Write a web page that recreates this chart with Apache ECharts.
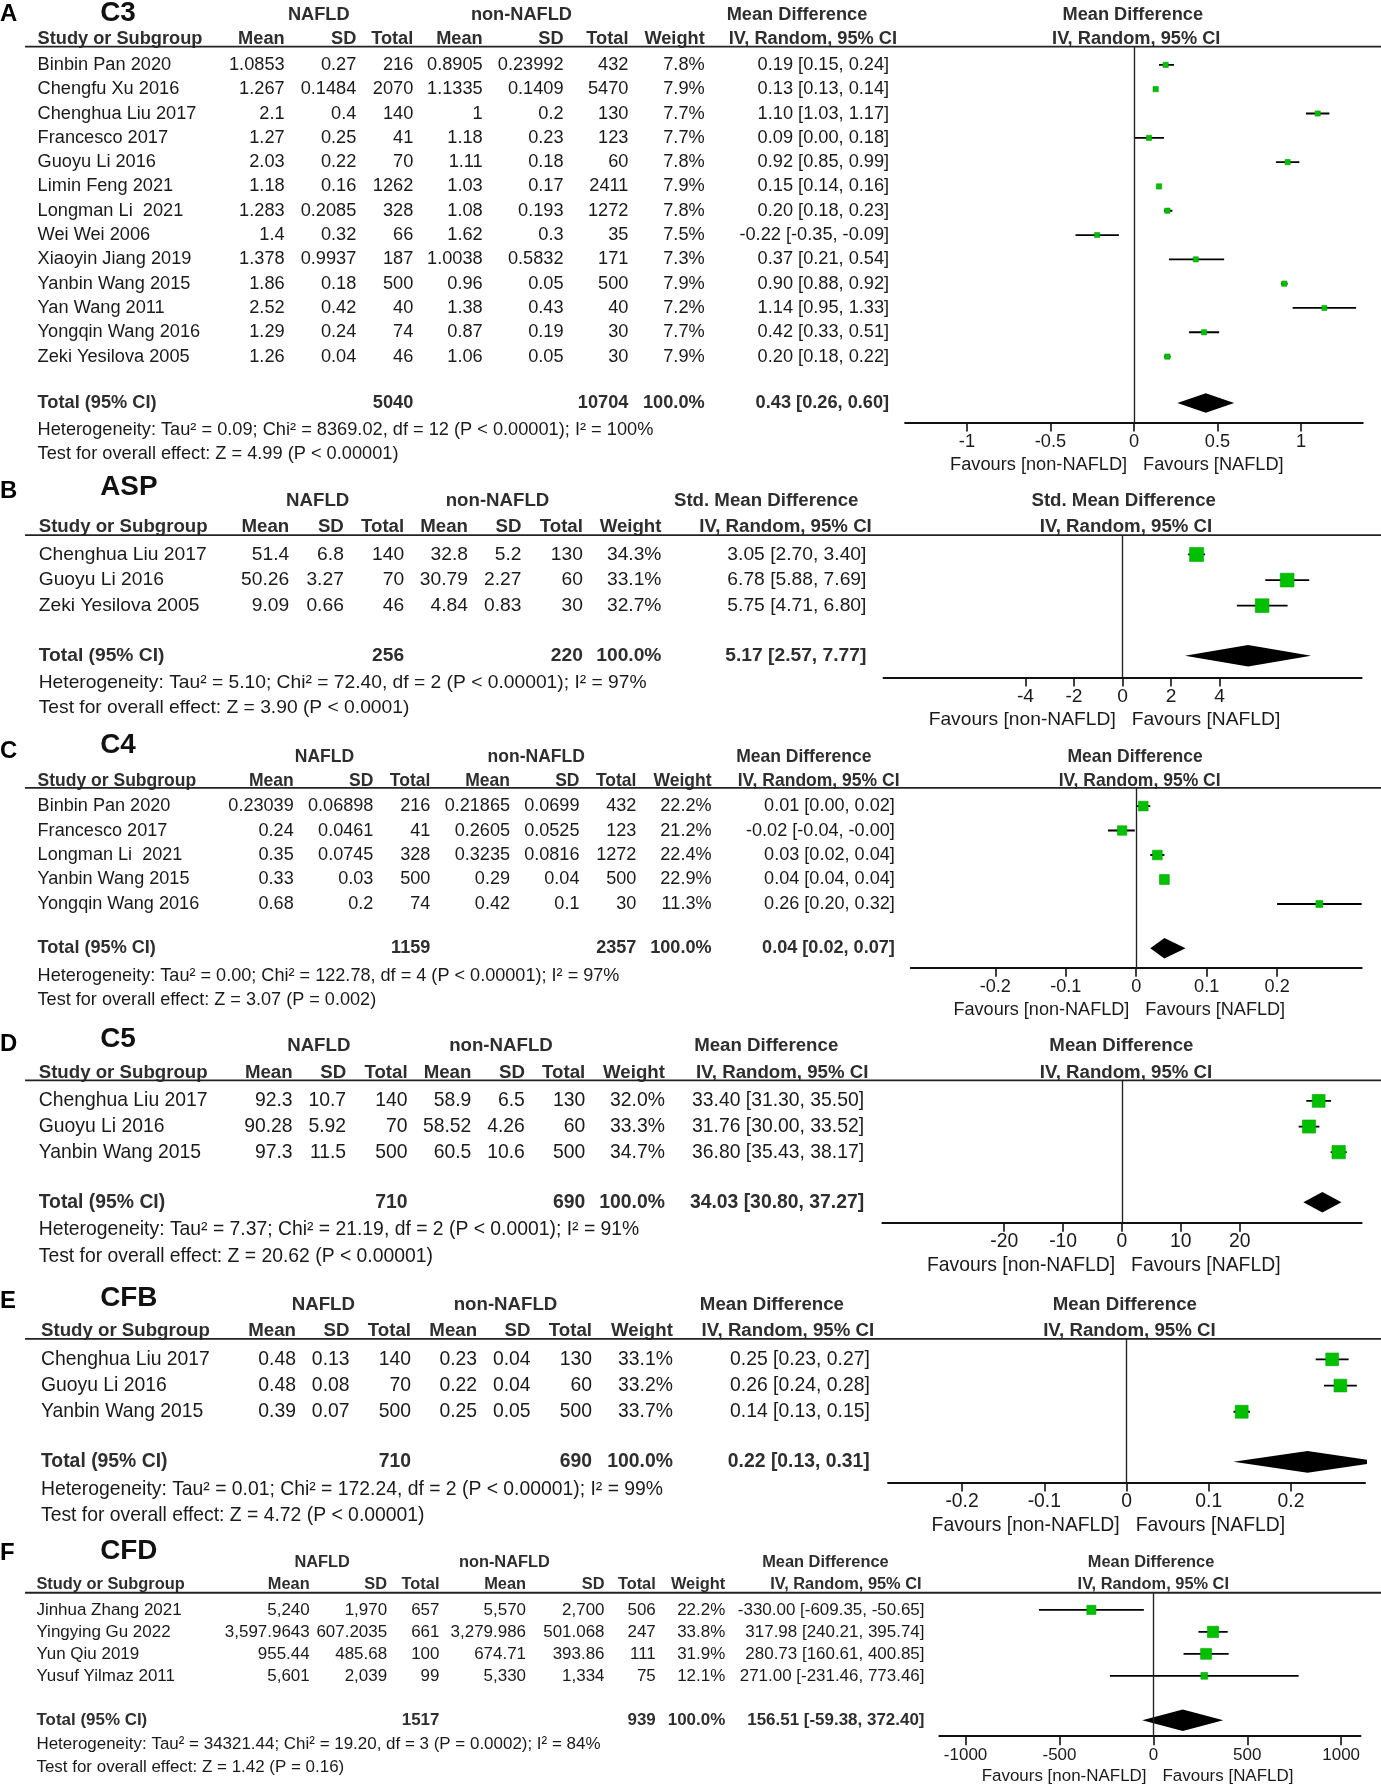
<!DOCTYPE html>
<html><head><meta charset="utf-8">
<script src="https://cdn.jsdelivr.net/npm/echarts@6.0.0/dist/echarts.min.js"></script>
<style>html,body{margin:0;padding:0;background:#fff}#c{width:1381px;height:1785px}</style>
</head><body><div id="c"></div>
<script>
// ---------------- DATA ----------------
// Panel A: C3
const c3_study = ['Binbin Pan 2020','Chengfu Xu 2016','Chenghua Liu 2017','Francesco 2017','Guoyu Li 2016','Limin Feng 2021','Longman Li  2021','Wei Wei 2006','Xiaoyin Jiang 2019','Yanbin Wang 2015','Yan Wang 2011','Yongqin Wang 2016','Zeki Yesilova 2005'];
const c3_m1 = [1.0853,1.267,2.1,1.27,2.03,1.18,1.283,1.4,1.378,1.86,2.52,1.29,1.26];
const c3_sd1 = [0.27,0.1484,0.4,0.25,0.22,0.16,0.2085,0.32,0.9937,0.18,0.42,0.24,0.04];
const c3_n1 = [216,2070,140,41,70,1262,328,66,187,500,40,74,46];
const c3_m2 = [0.8905,1.1335,1,1.18,1.11,1.03,1.08,1.62,1.0038,0.96,1.38,0.87,1.06];
const c3_sd2 = [0.23992,0.1409,0.2,0.23,0.18,0.17,0.193,0.3,0.5832,0.05,0.43,0.19,0.05];
const c3_n2 = [432,5470,130,123,60,2411,1272,35,171,500,40,30,30];
const c3_w = [7.8,7.9,7.7,7.7,7.8,7.9,7.8,7.5,7.3,7.9,7.2,7.7,7.9];
const c3_est = [0.19,0.13,1.10,0.09,0.92,0.15,0.20,-0.22,0.37,0.90,1.14,0.42,0.20];
const c3_lo = [0.15,0.13,1.03,0.00,0.85,0.14,0.18,-0.35,0.21,0.88,0.95,0.33,0.18];
const c3_hi = [0.24,0.14,1.17,0.18,0.99,0.16,0.23,-0.09,0.54,0.92,1.33,0.51,0.22];
const c3_total = [5040,10704,0.43,0.26,0.60];
const c3_het = 'Heterogeneity: Tau² = 0.09; Chi² = 8369.02, df = 12 (P < 0.00001); I² = 100%';
const c3_test = 'Test for overall effect: Z = 4.99 (P < 0.00001)';
const c3_ticks = [-1,-0.5,0,0.5,1];

// Panel B: ASP
const asp_study = ['Chenghua Liu 2017','Guoyu Li 2016','Zeki Yesilova 2005'];
const asp_m1 = [51.4,50.26,9.09];
const asp_sd1 = [6.8,3.27,0.66];
const asp_n1 = [140,70,46];
const asp_m2 = [32.8,30.79,4.84];
const asp_sd2 = [5.2,2.27,0.83];
const asp_n2 = [130,60,30];
const asp_w = [34.3,33.1,32.7];
const asp_est = [3.05,6.78,5.75];
const asp_lo = [2.70,5.88,4.71];
const asp_hi = [3.40,7.69,6.80];
const asp_total = [256,220,5.17,2.57,7.77];
const asp_het = 'Heterogeneity: Tau² = 5.10; Chi² = 72.40, df = 2 (P < 0.00001); I² = 97%';
const asp_test = 'Test for overall effect: Z = 3.90 (P < 0.0001)';
const asp_ticks = [-4,-2,0,2,4];

// Panel C: C4
const c4_study = ['Binbin Pan 2020','Francesco 2017','Longman Li  2021','Yanbin Wang 2015','Yongqin Wang 2016'];
const c4_m1 = [0.23039,0.24,0.35,0.33,0.68];
const c4_sd1 = [0.06898,0.0461,0.0745,0.03,0.2];
const c4_n1 = [216,41,328,500,74];
const c4_m2 = [0.21865,0.2605,0.3235,0.29,0.42];
const c4_sd2 = [0.0699,0.0525,0.0816,0.04,0.1];
const c4_n2 = [432,123,1272,500,30];
const c4_w = [22.2,21.2,22.4,22.9,11.3];
const c4_est = [0.01,-0.02,0.03,0.04,0.26];
const c4_lo = [0.00,-0.04,0.02,0.04,0.20];
const c4_hi = [0.02,-0.002,0.04,0.04,0.32];
const c4_total = [1159,2357,0.04,0.02,0.07];
const c4_het = 'Heterogeneity: Tau² = 0.00; Chi² = 122.78, df = 4 (P < 0.00001); I² = 97%';
const c4_test = 'Test for overall effect: Z = 3.07 (P = 0.002)';
const c4_ticks = [-0.2,-0.1,0,0.1,0.2];

// Panel D: C5
const c5_study = ['Chenghua Liu 2017','Guoyu Li 2016','Yanbin Wang 2015'];
const c5_m1 = [92.3,90.28,97.3];
const c5_sd1 = [10.7,5.92,11.5];
const c5_n1 = [140,70,500];
const c5_m2 = [58.9,58.52,60.5];
const c5_sd2 = [6.5,4.26,10.6];
const c5_n2 = [130,60,500];
const c5_w = [32.0,33.3,34.7];
const c5_est = [33.40,31.76,36.80];
const c5_lo = [31.30,30.00,35.43];
const c5_hi = [35.50,33.52,38.17];
const c5_total = [710,690,34.03,30.80,37.27];
const c5_het = 'Heterogeneity: Tau² = 7.37; Chi² = 21.19, df = 2 (P < 0.0001); I² = 91%';
const c5_test = 'Test for overall effect: Z = 20.62 (P < 0.00001)';
const c5_ticks = [-20,-10,0,10,20];

// Panel E: CFB
const cfb_study = ['Chenghua Liu 2017','Guoyu Li 2016','Yanbin Wang 2015'];
const cfb_m1 = [0.48,0.48,0.39];
const cfb_sd1 = [0.13,0.08,0.07];
const cfb_n1 = [140,70,500];
const cfb_m2 = [0.23,0.22,0.25];
const cfb_sd2 = [0.04,0.04,0.05];
const cfb_n2 = [130,60,500];
const cfb_w = [33.1,33.2,33.7];
const cfb_est = [0.25,0.26,0.14];
const cfb_lo = [0.23,0.24,0.13];
const cfb_hi = [0.27,0.28,0.15];
const cfb_total = [710,690,0.22,0.13,0.31];
const cfb_het = 'Heterogeneity: Tau² = 0.01; Chi² = 172.24, df = 2 (P < 0.00001); I² = 99%';
const cfb_test = 'Test for overall effect: Z = 4.72 (P < 0.00001)';
const cfb_ticks = [-0.2,-0.1,0,0.1,0.2];

// Panel F: CFD
const cfd_study = ['Jinhua Zhang 2021','Yingying Gu 2022','Yun Qiu 2019','Yusuf Yilmaz 2011'];
const cfd_m1 = [5240,3597.9643,955.44,5601];
const cfd_sd1 = [1970,607.2035,485.68,2039];
const cfd_n1 = [657,661,100,99];
const cfd_m2 = [5570,3279.986,674.71,5330];
const cfd_sd2 = [2700,501.068,393.86,1334];
const cfd_n2 = [506,247,111,75];
const cfd_w = [22.2,33.8,31.9,12.1];
const cfd_est = [-330.00,317.98,280.73,271.00];
const cfd_lo = [-609.35,240.21,160.61,-231.46];
const cfd_hi = [-50.65,395.74,400.85,773.46];
const cfd_total = [1517,939,156.51,-59.38,372.40];
const cfd_het = 'Heterogeneity: Tau² = 34321.44; Chi² = 19.20, df = 3 (P = 0.0002); I² = 84%';
const cfd_test = 'Test for overall effect: Z = 1.42 (P = 0.16)';
const cfd_ticks = [-1000,-500,0,500,1000];

// ---------------- LAYOUT (reference units, scaled by S) ----------------
const S = 1381 / 1213;
const FONT = '"Liberation Sans", Arial, Helvetica, sans-serif';
const TXT = '#1a1a1a', HDR = '#2e2e2e', GREEN = '#00c000';

const panels = [
  { letter:'A', title:'C3', grpName:'Mean Difference', locale:false,
    d:[c3_study,c3_m1,c3_sd1,c3_n1,c3_m2,c3_sd2,c3_n2,c3_w,c3_est,c3_lo,c3_hi], total:c3_total, het:c3_het, test:c3_test, ticks:c3_ticks,
    L:{letterY:13,titleY:12,h1:13,h2:34,line:41,row0:57,dr:21.35,total:354,het:378,test:399,axis:371,fav:408,
       cols:[33,250,313,363,424,495,552,619,781], grp:[280,458,700,714,995,998], px:[795,1197], xr:[-1.37,1.37], fs:16, hfs:16, k:1.65, dh:8.5}},
  { letter:'B', title:'ASP', grpName:'Std. Mean Difference', locale:false,
    d:[asp_study,asp_m1,asp_sd1,asp_n1,asp_m2,asp_sd2,asp_n2,asp_w,asp_est,asp_lo,asp_hi], total:asp_total, het:asp_het, test:asp_test, ticks:asp_ticks,
    L:{letterY:432,titleY:428,h1:440,h2:463,line:470,row0:487,dr:22.5,total:576,het:600,test:622,axis:595,fav:632,
       cols:[34,254,302,355,411,458,512,581,761], grp:[279,437,673,690,987,989], px:[776,1196], xr:[-9.85,9.85], fs:16.9, hfs:16.4, k:2.1, dh:9.5}},
  { letter:'C', title:'C4', grpName:'Mean Difference', locale:false,
    d:[c4_study,c4_m1,c4_sd1,c4_n1,c4_m2,c4_sd2,c4_n2,c4_w,c4_est,c4_lo,c4_hi], total:c4_total, het:c4_het, test:c4_test, ticks:c4_ticks,
    L:{letterY:660,titleY:655,h1:665,h2:686,line:692,row0:708,dr:21.5,total:833,het:857,test:878,axis:850,fav:887,
       cols:[33,258,328,378,448,509,559,625,786], grp:[285,471,706,719,997,1001], px:[800,1196], xr:[-0.32,0.32], fs:15.9, hfs:15.4, k:1.8, dh:9}},
  { letter:'D', title:'C5', grpName:'Mean Difference', locale:false,
    d:[c5_study,c5_m1,c5_sd1,c5_n1,c5_m2,c5_sd2,c5_n2,c5_w,c5_est,c5_lo,c5_hi], total:c5_total, het:c5_het, test:c5_test, ticks:c5_ticks,
    L:{letterY:917,titleY:913,h1:919,h2:942,line:949,row0:967,dr:22.5,total:1056,het:1080,test:1104,axis:1074,fav:1112,
       cols:[34,257,304,358,414,461,514,584,759], grp:[280,440,673,687,985,989], px:[775,1196], xr:[-40.7,40.7], fs:17, hfs:16.4, k:2.0, dh:9}},
  { letter:'E', title:'CFB', grpName:'Mean Difference', locale:false,
    d:[cfb_study,cfb_m1,cfb_sd1,cfb_n1,cfb_m2,cfb_sd2,cfb_n2,cfb_w,cfb_est,cfb_lo,cfb_hi], total:cfb_total, het:cfb_het, test:cfb_test, ticks:cfb_ticks,
    L:{letterY:1143,titleY:1140,h1:1146,h2:1169,line:1176,row0:1194,dr:23,total:1284,het:1308,test:1331,axis:1302,fav:1340,
       cols:[36,260,307,361,419,466,520,591,764], grp:[284,444,678,692,988,992], px:[780,1199], xr:[-0.29,0.29], fs:17, hfs:16.4, k:1.95, dh:9.5}},
  { letter:'F', title:'CFD', grpName:'Mean Difference', locale:true,
    d:[cfd_study,cfd_m1,cfd_sd1,cfd_n1,cfd_m2,cfd_sd2,cfd_n2,cfd_w,cfd_est,cfd_lo,cfd_hi], total:cfd_total, het:cfd_het, test:cfd_test, ticks:cfd_ticks,
    L:{letterY:1364,titleY:1363,h1:1372,h2:1392,line:1399,row0:1414,dr:19.33,total:1511,het:1532,test:1552,axis:1525,fav:1560,
       cols:[32,272,340,386,462,531,576,637,812], grp:[283,443,725,743,1011,1013], px:[825,1195], xr:[-1140,1103], fs:14.9, hfs:14.4, k:1.7, dh:9.5}}
];

// ---------------- BUILD ----------------
const graphics = [];
function T(x, y, text, o) {
  o = o || {};
  graphics.push({ type:'text', x:x*S, y:y*S, silent:true, z:10,
    style:{ text:String(text), fontSize:(o.fs||16)*S, fontFamily:FONT, fontWeight:o.bold?'bold':'normal',
            fill:o.color||TXT, textAlign:o.align||'left', textVerticalAlign:'middle' } });
}
function LINE(x1, y1, x2, y2, w) {
  graphics.push({ type:'line', silent:true, z:10, shape:{x1:x1*S,y1:y1*S,x2:x2*S,y2:y2*S}, style:{stroke:'#222', lineWidth:w*S} });
}
const fmtRaw = (v, loc) => loc ? v.toLocaleString('en-US', {maximumFractionDigits:6}) : String(v);
const fmtCI = (e, lo, hi) => e.toFixed(2) + ' [' + lo.toFixed(2) + ', ' + hi.toFixed(2) + ']';

const grids = [], xAxes = [], yAxes = [], series = [];

panels.forEach((p, pi) => {
  const L = p.L, c = L.cols, g = L.grp, fs = L.fs, hfs = L.hfs;
  const [study, m1, sd1, n1, m2, sd2, n2, w, est, lo, hi] = p.d;
  T(0, L.letterY, p.letter, {fs:21, bold:true, color:'#000'});
  T(88, L.titleY, p.title, {fs:24.5, bold:true, color:'#111'});
  T(g[0], L.h1, 'NAFLD', {fs:hfs, bold:true, color:HDR, align:'center'});
  T(g[1], L.h1, 'non-NAFLD', {fs:hfs, bold:true, color:HDR, align:'center'});
  T(g[2], L.h1, p.grpName, {fs:hfs, bold:true, color:HDR, align:'center'});
  T(g[4], L.h1, p.grpName, {fs:hfs, bold:true, color:HDR, align:'center'});
  const hy = L.h2;
  T(c[0], hy, 'Study or Subgroup', {fs:hfs, bold:true, color:HDR});
  ['Mean','SD','Total','Mean','SD','Total','Weight'].forEach((h, k) => T(c[k+1], hy, h, {fs:hfs, bold:true, color:HDR, align:'right'}));
  T(g[3], hy, 'IV, Random, 95% CI', {fs:hfs, bold:true, color:HDR, align:'center'});
  T(g[5], hy, 'IV, Random, 95% CI', {fs:hfs, bold:true, color:HDR, align:'center'});
  LINE(22, L.line, 1213, L.line, 1.6);
  study.forEach((s, i) => {
    const y = L.row0 + i * L.dr;
    T(c[0], y, s, {fs});
    const vals = [m1[i], sd1[i], n1[i], m2[i], sd2[i], n2[i]].map(v => fmtRaw(v, p.locale));
    vals.forEach((v, k) => T(c[k+1], y, v, {fs, align:'right'}));
    T(c[7], y, w[i].toFixed(1) + '%', {fs, align:'right'});
    T(c[8], y, fmtCI(est[i], lo[i], hi[i]), {fs, align:'right'});
  });
  const t = p.total;
  T(c[0], L.total, 'Total (95% CI)', {fs, bold:true, color:HDR});
  T(c[3], L.total, String(t[0]), {fs, bold:true, color:HDR, align:'right'});
  T(c[6], L.total, String(t[1]), {fs, bold:true, color:HDR, align:'right'});
  T(c[7], L.total, '100.0%', {fs, bold:true, color:HDR, align:'right'});
  T(c[8], L.total, fmtCI(t[2], t[3], t[4]), {fs, bold:true, color:HDR, align:'right'});
  T(c[0], L.het, p.het, {fs});
  T(c[0], L.test, p.test, {fs});
  const zero = L.px[0] + (0 - L.xr[0]) / (L.xr[1] - L.xr[0]) * (L.px[1] - L.px[0]);
  T(zero - 6, L.fav, 'Favours [non-NAFLD]', {fs, align:'right'});
  T(zero + 8, L.fav, 'Favours [NAFLD]', {fs});

  grids.push({ left:L.px[0]*S, top:L.line*S, width:(L.px[1]-L.px[0])*S, height:(L.axis-L.line)*S, containLabel:false });
  xAxes.push({ gridIndex:pi, type:'value', min:L.xr[0], max:L.xr[1], position:'bottom',
    axisLine:{show:true, onZero:false, lineStyle:{color:'#111', width:1.7*S}},
    axisTick:{show:true, customValues:p.ticks, length:8*S, lineStyle:{color:'#111', width:1.4*S}},
    axisLabel:{show:true, customValues:p.ticks, fontSize:fs*S, fontFamily:FONT, color:TXT, margin:(17 - fs/2)*S, formatter:v => String(v)},
    splitLine:{show:false} });
  yAxes.push({ gridIndex:pi, type:'value', inverse:true, show:false,
    min:(L.line - L.row0)/L.dr, max:(L.axis - L.row0)/L.dr });
  const k = L.k, dh = L.dh;
  series.push({ type:'custom', xAxisIndex:pi, yAxisIndex:pi, silent:true, animation:false, clip:true, z:3,
    data: study.map((s, i) => [i, est[i], lo[i], hi[i], w[i]]),
    encode:{x:[1,2,3], y:0},
    renderItem:(params, api) => {
      const yi = api.value(0);
      const pl = api.coord([api.value(2), yi]), ph = api.coord([api.value(3), yi]), pe = api.coord([api.value(1), yi]);
      const sz = k * Math.sqrt(api.value(4)) * S;
      return { type:'group', children:[
        { type:'line', shape:{x1:pl[0], y1:pl[1], x2:ph[0], y2:ph[1]}, style:{stroke:'#000', lineWidth:1.6*S} },
        { type:'rect', shape:{x:pe[0]-sz/2, y:pe[1]-sz/2, width:sz, height:sz}, style:{fill:GREEN, stroke:'#00a400', lineWidth:0.6} }
      ]};
    },
    markLine:{ silent:true, symbol:'none', animation:false, label:{show:false},
      lineStyle:{color:'#222', width:1.2*S, type:'solid'}, data:[{xAxis:0}] }
  });
  const tIdx = (L.total - L.row0) / L.dr;
  series.push({ type:'custom', xAxisIndex:pi, yAxisIndex:pi, silent:true, animation:false, clip:true, z:4,
    data:[[tIdx, t[2], t[3], t[4]]], encode:{x:[1,2,3], y:0},
    renderItem:(params, api) => {
      const yi = api.value(0);
      const pl = api.coord([api.value(2), yi]), ph = api.coord([api.value(3), yi]), pe = api.coord([api.value(1), yi]);
      const h = dh * S;
      return { type:'polygon', shape:{points:[[pl[0], pl[1]], [pe[0], pe[1]-h], [ph[0], ph[1]], [pe[0], pe[1]+h]]}, style:{fill:'#000'} };
    }
  });
});

const chart = echarts.init(document.getElementById('c'), null, {renderer:'canvas', width:1381, height:1785});
chart.setOption({
  backgroundColor:'#fff', animation:false,
  grid:grids, xAxis:xAxes, yAxis:yAxes, series:series, graphic:graphics
});
</script></body></html>
